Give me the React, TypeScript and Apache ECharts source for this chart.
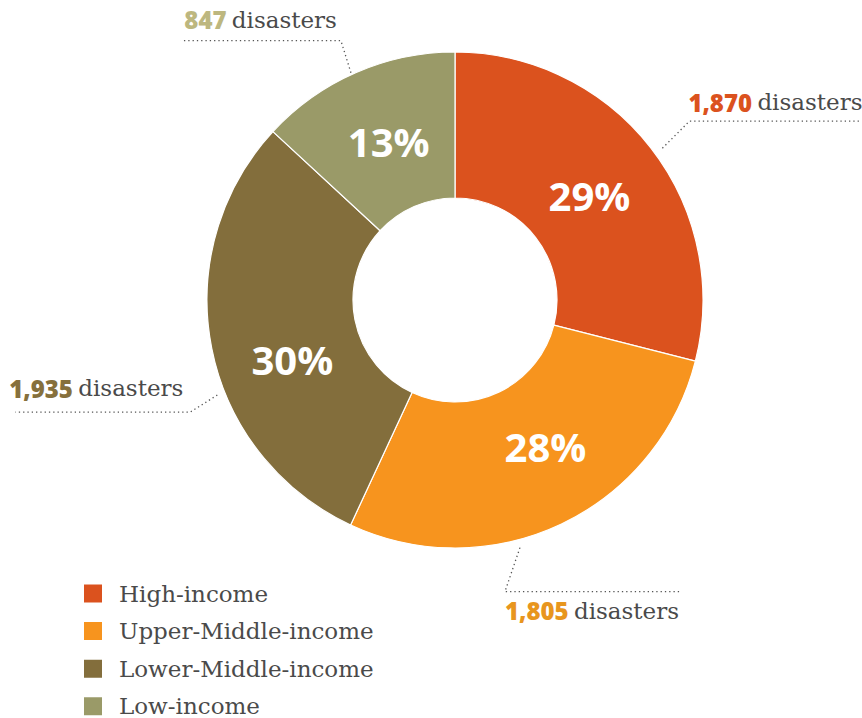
import React, { useEffect, useRef } from "react";
import * as echarts from "echarts";

const categories = ["High-income", "Upper-Middle-income", "Lower-Middle-income", "Low-income"];
const disasters = [1870, 1805, 1935, 847];
const disasterLabels = ["1,870", "1,805", "1,935", "847"];
const sliceColors = ["#DB521E", "#F7941E", "#836E3C", "#9A9A68"];
const numberColors = ["#DB521E", "#E8961E", "#86703C", "#BDB77F"];

// leader-line / label layout (annotation geometry, not data)
const CX = 455;
const CY = 300;
const R_IN = 102;
const R_OUT = 248;
const leaders = [
  { angle: 53.8, r: 257, dx: 27, dy: -27, h: 172, tx: -1, ty: -19, align: "left" },
  { angle: 165.3, r: 256, dx: -15, dy: 44, h: 177, tx: 0, ty: 19, align: "left" },
  { angle: 248.2, r: 256, dx: -27, dy: 17, h: -175, tx: -7, ty: -24, align: "right" },
  { angle: 335.4, r: 250, dx: -10, dy: -32, h: -160, tx: -4, ty: -21, align: "right" },
];
const pctOffsets = [
  [-6, 5],
  [14, -14],
  [12, 25],
  [5, 5],
];

export default function App() {
  const ref = useRef<HTMLDivElement>(null);
  useEffect(() => {
    if (!ref.current) return;
    const chart = echarts.init(ref.current, null, { renderer: "svg" });
    const visibleData = categories.map((name, i) => ({
      name,
      value: disasters[i],
      label: { offset: pctOffsets[i] },
    }));
    const labelData = categories.map((name, i) => ({ name, value: disasters[i] }));
    const rich: any = {
      txt: { fontFamily: "DejaVu Serif", fontSize: 23, color: "#4a4a4a", padding: [0, 0, 0, 2] },
    };
    numberColors.forEach((c, i) => {
      rich["n" + i] = { fontFamily: "Open Sans", fontWeight: 800, fontSize: 24, color: c };
    });
    chart.setOption({
      animation: false,
      backgroundColor: "#ffffff",
      color: sliceColors,
      legend: {
        orient: "vertical",
        left: 82,
        top: 582,
        height: 200,
        padding: 0,
        icon: "rect",
        itemWidth: 20,
        itemHeight: 20,
        itemGap: 14.6,
        selectedMode: false,
        data: categories,
        textStyle: {
          fontFamily: "DejaVu Serif",
          fontSize: 23,
          color: "#4a4a4a",
          padding: [0, 0, 0, 11],
        },
      },
      series: [
        {
          type: "pie",
          center: [CX, CY],
          radius: [R_IN, R_OUT],
          startAngle: 90,
          clockwise: true,
          silent: true,
          itemStyle: { borderColor: "#ffffff", borderWidth: 1.2 },
          label: {
            position: "inside",
            formatter: (p: any) => Math.round(p.percent) + "%",
            fontFamily: "Open Sans",
            fontWeight: 700,
            fontSize: 40,
            color: "#ffffff",
          },
          labelLine: { show: false },
          data: visibleData,
        },
        {
          type: "pie",
          center: [CX, CY],
          radius: [R_IN, R_OUT],
          startAngle: 90,
          clockwise: true,
          silent: true,
          itemStyle: { color: "rgba(0,0,0,0)", borderWidth: 0 },
          label: {
            position: "outside",
            overflow: "none",
            formatter: (p: any) => `{n${p.dataIndex}|${disasterLabels[p.dataIndex]}} {txt|disasters}`,
            rich,
          },
          labelLine: {
            show: true,
            lineStyle: { color: "#555555", width: 1.3, type: [1.3, 3] },
          },
          labelLayout: (p: any) => {
            const c = leaders[p.dataIndex];
            const a = (c.angle * Math.PI) / 180;
            const sx = CX + c.r * Math.sin(a);
            const sy = CY - c.r * Math.cos(a);
            const ex = sx + c.dx;
            const ey = sy + c.dy;
            return {
              x: ex + c.tx,
              y: ey + c.ty,
              align: c.align,
              verticalAlign: "middle",
              labelLinePoints: [
                [sx, sy],
                [ex, ey],
                [ex + c.h, ey],
              ],
            };
          },
          data: labelData,
        },
      ],
    });
    return () => chart.dispose();
  }, []);
  return (
    <div
      ref={ref}
      style={{ position: "absolute", left: 0, top: 0, width: 862, height: 718 }}
    />
  );
}
